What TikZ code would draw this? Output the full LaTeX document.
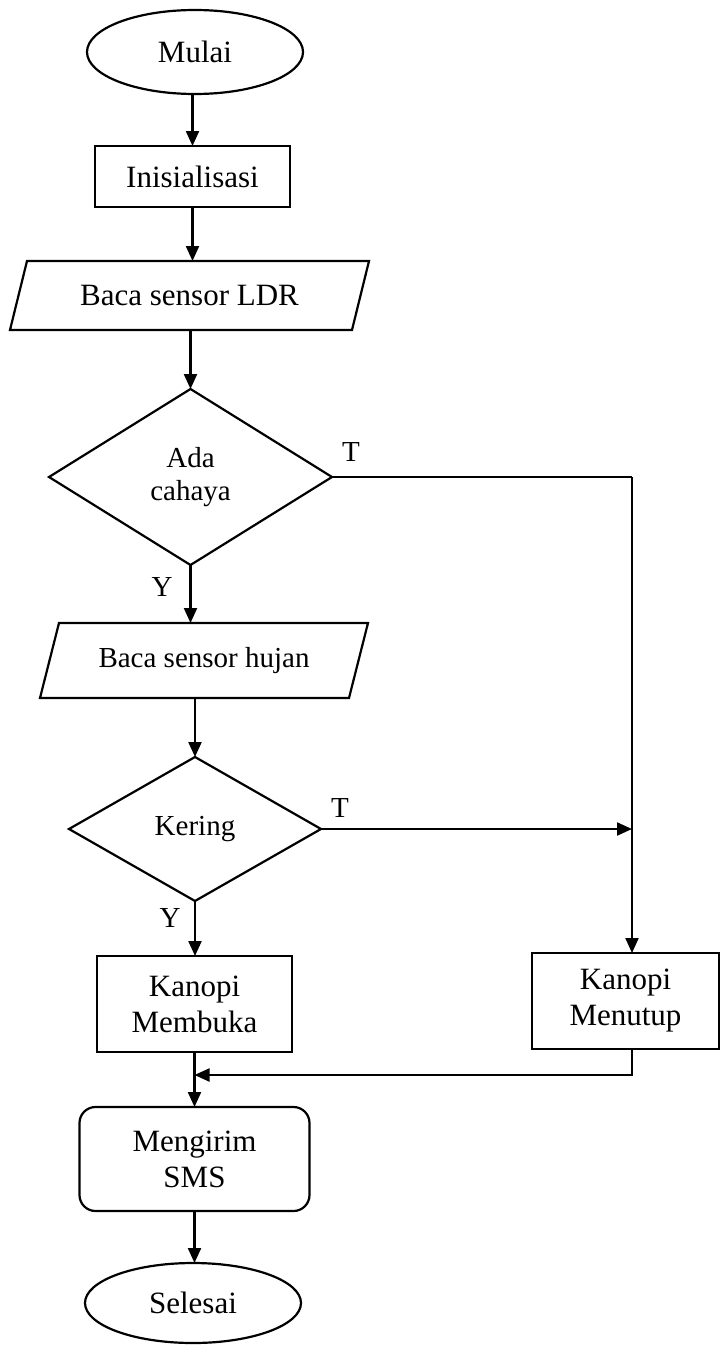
\documentclass[tikz,border=0pt]{standalone}
\usepackage{fontspec}
\setmainfont{Liberation Serif}
\usetikzlibrary{shapes.geometric,arrows.meta}
\begin{document}
\begin{tikzpicture}[x=1pt,y=-1pt,
  every node/.style={inner sep=0pt, outer sep=0pt, align=center},
  line/.style={line width=2.2pt},
  arr/.style={line width=2.2pt, -{Triangle[length=15pt,width=13pt]}},
  bigtxt/.style={font=\fontsize{31}{36}\selectfont},
  smalltxt/.style={font=\fontsize{29}{33}\selectfont},
  term/.style={ellipse, draw, line width=2.2pt, bigtxt},
  proc/.style={rectangle, draw, line width=2.2pt, bigtxt},
  iobox/.style={rectangle},
  dec/.style={diamond, draw, line width=2.2pt, smalltxt},
  lbl/.style={font=\fontsize{29}{33}\selectfont}
]
\useasboundingbox[fill=white] (0,0) rectangle (720,1365);

\node[term, minimum width=216pt, minimum height=84pt] (mulai) at (195,52) {Mulai};
\node[proc, minimum width=195pt, minimum height=61pt] (init) at (192.5,176.5) {Inisialisasi};
\node[iobox, bigtxt, minimum width=359pt, minimum height=69pt] (ldr) at (189.5,295.5) {Baca sensor LDR};
\draw[line] ([xshift=17pt]ldr.north west) -- (ldr.north east) -- ([xshift=-17pt]ldr.south east) -- (ldr.south west) -- cycle;
\node[dec, minimum width=283pt, minimum height=176pt] (d1) at (190.5,477) {Ada\\cahaya};
\node[iobox, smalltxt, minimum width=328pt, minimum height=75pt] (hujan) at (204,660.5) {Baca sensor hujan};
\draw[line] ([xshift=19pt]hujan.north west) -- (hujan.north east) -- ([xshift=-19pt]hujan.south east) -- (hujan.south west) -- cycle;
\node[dec, minimum width=252pt, minimum height=144pt] (d2) at (195,829) {Kering};
\node[proc, minimum width=195pt, minimum height=96pt] (membuka) at (194.5,1004) {Kanopi\\Membuka};
\node[proc, minimum width=187pt, minimum height=96pt] (menutup) at (625.5,1001) {Kanopi\\Menutup};
\node[proc, rounded corners=16pt, minimum width=230pt, minimum height=104pt] (mengirim) at (194.5,1159) {Mengirim\\SMS};
\node[term, minimum width=216pt, minimum height=80pt] (selesai) at (193,1303) {Selesai};

\node[lbl] (t1) at (351,452) {T};
\node[lbl] (t2) at (340,808) {T};
\node[lbl] (y1) at (162,587) {Y};
\node[lbl] (y2) at (170,918) {Y};

\draw[arr] (init.north |- mulai.south) -- (init.north);
\draw[arr] (init.south) -- (init.south |- ldr.north);
\draw[arr] (ldr.south -| d1.north) -- (d1.north);
\draw[arr] (d1.south) -- (d1.south |- hujan.north);
\draw[arr] (d2.north |- hujan.south) -- (d2.north);
\draw[arr] (d2.south) -- (d2.south |- membuka.north);
\draw[arr] (membuka.south) -- (membuka.south |- mengirim.north);
\draw[arr] (mengirim.south) -- (mengirim.south |- selesai.north);

\coordinate (rt) at (632,477);
\draw[line] (d1.east) -- (rt);
\draw[arr] (rt) -- (rt |- menutup.north);
\draw[arr] (d2.east) -- (d2.east -| rt);
\coordinate (mgy) at (0,1075);
\coordinate (mg) at (membuka.south |- mgy);
\draw[arr] (rt |- menutup.south) -- (rt |- mg) -- (mg);
\end{tikzpicture}
\end{document}
